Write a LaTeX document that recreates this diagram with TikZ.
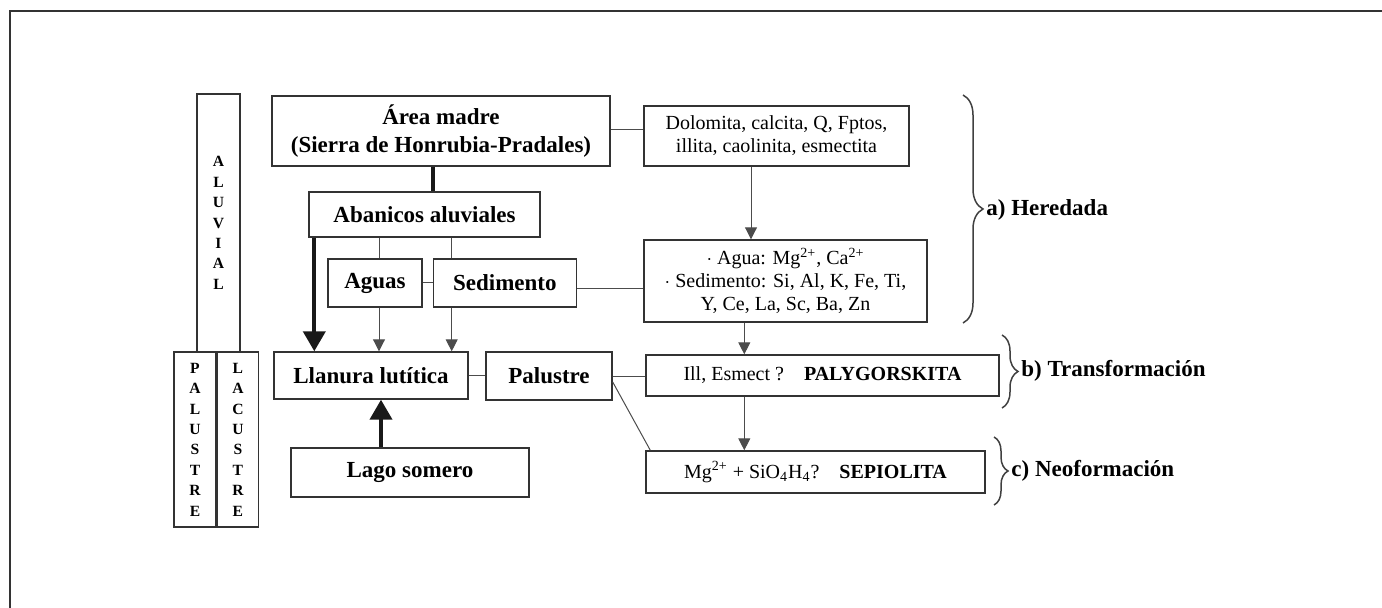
\documentclass[tikz,border=0pt]{standalone}
\usepackage{fontspec}
\setmainfont{Liberation Serif}
\usepackage{tikz}
\usetikzlibrary{arrows.meta,positioning,calc,decorations.pathreplacing}

\begin{document}
\begin{tikzpicture}[
    x=0.5pt, y=-0.5pt,
    box/.style={rectangle, draw=black!80, line width=0.7pt, inner sep=0pt, align=center, font=\bfseries\fontsize{11.5}{14}\selectfont},
    tbox/.style={box, font=\fontsize{10}{11.5}\selectfont},
    vbox/.style={box, font=\bfseries\fontsize{7.8}{10.2}\selectfont},
    lbl/.style={anchor=west, inner sep=0pt, font=\bfseries\fontsize{11.5}{14}\selectfont},
    link/.style={draw=black!70, line width=0.5pt},
    arrow/.style={link, -{Triangle[length=6pt,width=6pt]}},
    bigline/.style={draw=black!90, line width=2pt},
    bigarrow/.style={bigline, -{Triangle[length=10pt,width=11pt]}},
    brace/.style={draw=black!75, line width=0.75pt, decorate, decoration={brace, amplitude=#1}}
  ]
    \useasboundingbox (0,0) rectangle (1382,608);
    \draw[black!80, line width=1pt] (10,608) -- (10,11) -- (1382,11);

    \node[vbox, minimum width=21.5pt, minimum height=129pt] (aluv) at (218.5,223) {A\\L\\U\\V\\I\\A\\L};
    \node[vbox, minimum width=21pt, minimum height=87.5pt] (palus) at (195,439.5) {P\\A\\L\\U\\S\\T\\R\\E};
    \node[vbox, minimum width=20.5pt, minimum height=87.5pt, right=0pt of palus] (lacus) {L\\A\\C\\U\\S\\T\\R\\E};

    \node[box, minimum width=169pt, minimum height=35pt] (madre) at (441,131) {\'Area madre\\(Sierra de Honrubia-Pradales)};
    \node[tbox, minimum width=132.5pt, minimum height=30pt] (dolo) at (776.5,136) {Dolomita, calcita, Q, Fptos,\\illita, caolinita, esmectita};
    \node[box, minimum width=115.5pt, minimum height=22.5pt] (aban) at (424.5,214.5) {Abanicos aluviales};
    \node[box, minimum width=47pt, minimum height=24pt] (aguas) at (375,283) {Aguas};
    \node[box, minimum width=71.5pt, minimum height=24pt, right=5pt of aguas] (sedim) {Sedimento};
    \node[tbox, minimum width=141.5pt, minimum height=41pt] (quim) at (785.5,281) {$\cdot$ Agua: Mg\textsuperscript{2+}, Ca\textsuperscript{2+}\\$\cdot$ Sedimento: Si, Al, K, Fe, Ti,\\Y, Ce, La, Sc, Ba, Zn};
    \node[box, minimum width=97pt, minimum height=23.5pt] (llan) at (371,375.5) {Llanura lut\'itica};
    \node[box, minimum width=63pt, minimum height=24pt] (palu) at (549,376) {Palustre};
    \node[box, minimum width=119pt, minimum height=24.5pt] (lago) at (410,472.5) {Lago somero};
    \node[tbox, minimum width=176.5pt, minimum height=20.5pt] (paly) at (822.5,375.5) {Ill, Esmect ?\quad\textbf{PALYGORSKITA}};
    \node[tbox, minimum width=169.5pt, minimum height=21pt] (sepi) at (815.5,472) {Mg\textsuperscript{2+} + SiO\textsubscript{4}H\textsubscript{4}?\quad\textbf{SEPIOLITA}};

    \draw[link] ([yshift=0.5pt]madre.east) -- ([yshift=0.5pt]madre.east -| dolo.west);
    \draw[bigline] ([xshift=-4pt]madre.south) -- ([xshift=-4pt]madre.south |- aban.north);
    \draw[link] ([xshift=2pt]aguas.north) -- ([xshift=2pt]aguas.north |- aban.south);
    \draw[link] ([xshift=9.5pt]sedim.north west) -- ([xshift=9.5pt]sedim.north west |- aban.south);
    \draw[link] (aguas.east) -- (sedim.west);
    \draw[bigarrow] ([xshift=3pt]aban.south west) -- ([xshift=3pt]aban.south west |- llan.north);
    \draw[arrow] ([xshift=2pt]aguas.south) -- ([xshift=2pt]aguas.south |- llan.north);
    \draw[arrow] ([xshift=9.5pt]sedim.south west) -- ([xshift=9.5pt]sedim.south west |- llan.north);
    \draw[link] ([yshift=-3pt]sedim.east) -- ([yshift=-3pt]sedim.east -| quim.west);
    \draw[arrow] ([xshift=-12.75pt]dolo.south) -- ([xshift=-12.75pt]dolo.south |- quim.north);
    \draw[arrow] ([xshift=49.5pt]paly.north west |- quim.south) -- ([xshift=49.5pt]paly.north west);
    \draw[arrow] ([xshift=49.5pt]paly.south west) -- ([xshift=49.5pt]sepi.north west);
    \draw[link] (llan.east |- palu.west) -- (palu.west);
    \draw[bigarrow] ([xshift=-14.5pt]lago.north) -- ([xshift=-14.5pt]lago.north |- llan.south);
    \draw[link] ([yshift=-0.5pt]palu.east) -- ([yshift=-0.5pt]palu.east -| paly.west);
    \draw[link] ([yshift=-3pt]palu.east) -- ([xshift=2.5pt]sepi.north west);

    \draw[brace=10pt] (963,95) -- (963,323);
    \draw[brace=8pt] (1002,335) -- (1002,408);
    \draw[brace=7pt] (994,437) -- (994,505);
    \node[lbl] (hered) at (986,210) {a) Heredada};
    \node[lbl] (transf) at (1021,371) {b) Transformaci\'on};
    \node[lbl] (neof) at (1011,471) {c) Neoformaci\'on};
  \end{tikzpicture}
\end{document}
